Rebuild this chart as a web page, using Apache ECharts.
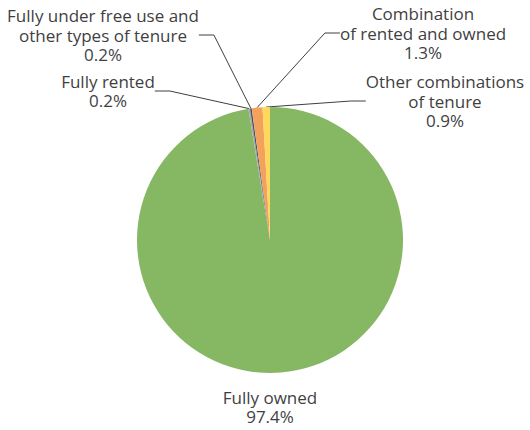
<!DOCTYPE html>
<html>
<head>
<meta charset="utf-8">
<script src="https://cdn.jsdelivr.net/npm/echarts@6/dist/echarts.min.js"></script>
<style>
  html, body { margin: 0; padding: 0; background: #fff; }
  #chart { width: 530px; height: 430px; }
</style>
</head>
<body>
<div id="chart"></div>
<script>
// tenure categories, in the order drawn clockwise from 12 o'clock
const categories = [
  'Fully owned',
  'Fully rented',
  'Fully under free use and\nother types of tenure',
  'Combination\nof rented and owned',
  'Other combinations\nof tenure'
];
const shares = [97.4, 0.2, 0.2, 1.3, 0.9];
const colors = ['#86B864', '#A6A6A6', '#44546A', '#F4A15C', '#FDD85D'];

// where each label block is centred
const labelSpots = [[270, 407], [108, 91], [103, 35], [423, 33], [445, 101]];

const chart = echarts.init(document.getElementById('chart'), null, { renderer: 'svg' });

chart.setOption({
  animation: false,
  series: [{
    type: 'pie',
    center: [270, 240],
    radius: 133,
    startAngle: 90,
    clockwise: true,
    avoidLabelOverlap: false,
    itemStyle: { borderWidth: 0 },
    label: {
      formatter: '{b}\n{c}%',
      color: '#3f3f3f',
      fontFamily: 'Open Sans',
      fontSize: 17,
      lineHeight: 19.5,
      align: 'center'
    },
    labelLine: {
      show: true,
      length: 10,
      length2: 15,
      lineStyle: { color: '#3f3f3f', width: 1 }
    },
    labelLayout: function (p) {
      const s = labelSpots[p.dataIndex];
      return { x: s[0], y: s[1], align: 'center', verticalAlign: 'middle' };
    },
    data: categories.map((name, i) => ({
      name: name,
      value: shares[i],
      itemStyle: { color: colors[i] },
      labelLine: { show: i !== 0 }
    }))
  }]
});
</script>
</body>
</html>
